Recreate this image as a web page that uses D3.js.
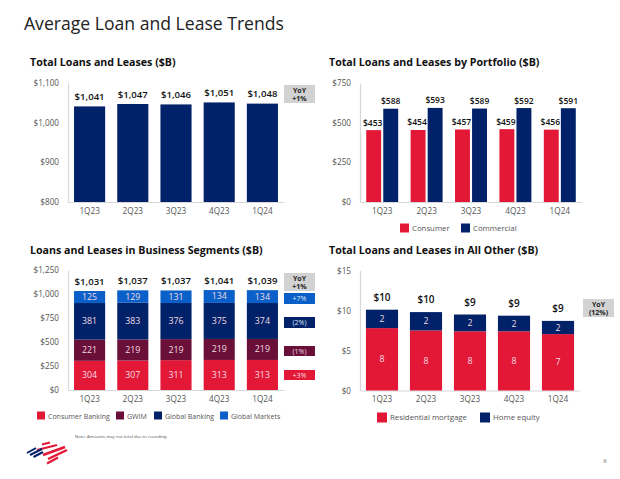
<!DOCTYPE html>
<html><head><meta charset="utf-8">
<script src="https://cdn.jsdelivr.net/npm/d3@7"></script>
<style>
html,body{margin:0;padding:0;background:#fff;}
text{font-family:"Open Sans","Noto Sans",sans-serif;}
</style></head><body>
<svg id="c" width="620" height="479"></svg>
<script>
const quarters=["1Q23","2Q23","3Q23","4Q23","1Q24"];
const totalLoans=[1041,1047,1046,1051,1048];
const consumer=[453,454,457,459,456];
const commercial=[588,593,589,592,591];
const segTotals=[1031,1037,1037,1041,1039];
const consumerBanking=[304,307,311,313,313];
const gwim=[221,219,219,219,219];
const globalBanking=[381,383,376,375,374];
const globalMarkets=[125,129,131,134,134];
const otherTotalLabels=[10,10,9,9,9];
const residential=[7.8,7.5,7.4,7.4,7.05];
const homeEquity=[2.3,2.3,2.1,1.95,1.65];
const residentialLabels=[8,8,8,8,7];
const homeEquityLabels=[2,2,2,2,2];
const ticks1=[800,900,1000,1100];
const ticks2=[0,250,500,750];
const ticks3=[0,250,500,750,1000,1250];
const ticks4=[0,5,10,15];

const NAVY="#012169",RED="#e31837",MAROON="#6a0f38",BLUE="#0a5fc8",GREY="#d2d2d2",TXT="#111",AX="#555";
const svg=d3.select("#c");
const fmt=d=>"$"+d3.format(",")(d);

svg.append("text").attr("x",24).attr("y",30).attr("font-size",17.6).attr("fill","#222").text("Average Loan and Lease Trends");

function frame(o){
  const g=svg.append("g");
  g.append("text").attr("x",o.tx).attr("y",o.ty).attr("font-size",10.65).attr("font-weight",700).attr("fill",TXT).text(o.title);
  const x=d3.scaleBand().domain(quarters).range([o.x0,o.x1]).paddingInner(o.pad).paddingOuter(o.pad/2);
  const y=d3.scaleLinear().domain(o.domain).range([o.y0,o.y1]);
  const ay=g.append("g").attr("transform",`translate(${o.x0},0)`).call(d3.axisLeft(y).tickValues(o.ticks).tickFormat(fmt).tickSize(0).tickPadding(9));
  ay.select(".domain").attr("stroke","#d8d8d8").attr("stroke-width",1.2);
  ay.selectAll("text").attr("font-size",8.2).attr("fill",AX).style("font-family",'"Open Sans",sans-serif');
  const ax=g.append("g").attr("transform",`translate(0,${o.y0})`).call(d3.axisBottom(x).tickSize(0).tickPadding(6));
  ax.select(".domain").attr("stroke","#d8d8d8").attr("stroke-width",1);
  ax.selectAll("text").attr("font-size",8.2).attr("fill",AX).style("font-family",'"Open Sans",sans-serif');
  return {g,x,y};
}
function stacked(p,seriesList){
  const rows=quarters.map((q,i)=>{const r={q};seriesList.forEach(s=>r[s.key]=s.values[i]);return r;});
  const st=d3.stack().keys(seriesList.map(s=>s.key))(rows);
  st.forEach((layer,li)=>{
    const s=seriesList[li];
    p.g.append("g").selectAll("rect").data(layer).join("rect")
      .attr("x",d=>p.x(d.data.q)).attr("width",p.x.bandwidth())
      .attr("y",d=>p.y(d[1])).attr("height",d=>p.y(d[0])-p.y(d[1])).attr("fill",s.color);
    p.g.append("g").selectAll("text").data(layer).join("text")
      .attr("x",d=>p.x(d.data.q)+p.x.bandwidth()/2)
      .attr("y",d=>(p.y(d[0])+p.y(d[1]))/2+3)
      .attr("text-anchor","middle").attr("font-size",8.8).attr("fill","#f0dce2")
      .text((d,i)=>s.labels[i]);
  });
  return st[st.length-1];
}
function legend(items){
  items.forEach(it=>{
    svg.append("rect").attr("x",it.x).attr("y",it.y-4.5).attr("width",it.size||8).attr("height",it.size||8).attr("fill",it.color);
    svg.append("text").attr("x",it.x+(it.size||8)+(it.gap||3)).attr("y",it.y+2.8).attr("font-size",it.fs||7.8).attr("fill",AX).text(it.label);
  });
}
function badge(x,y,w,h,fill,lines,color){
  svg.append("rect").attr("x",x).attr("y",y).attr("width",w).attr("height",h).attr("fill",fill);
  lines.forEach((l,i)=>svg.append("text").attr("x",x+w/2)
    .attr("y",y+h/2+2.6-(lines.length-1)*4+i*8).attr("text-anchor","middle")
    .attr("font-size",7).attr("font-weight",lines.length>1?700:400).attr("fill",color).text(l));
}

// Panel 1
const p1=frame({title:"Total Loans and Leases ($B)",tx:30,ty:66,x0:68,x1:284,y0:202,y1:83,domain:[800,1100],ticks:ticks1,pad:.28});
p1.g.append("g").selectAll("rect").data(totalLoans).join("rect")
  .attr("x",(d,i)=>p1.x(quarters[i])).attr("width",p1.x.bandwidth())
  .attr("y",d=>p1.y(d)).attr("height",d=>202-p1.y(d)).attr("fill",NAVY);
p1.g.append("g").selectAll("text").data(totalLoans).join("text")
  .attr("x",(d,i)=>p1.x(quarters[i])+p1.x.bandwidth()/2).attr("y",d=>p1.y(d)-6.5)
  .attr("text-anchor","middle").attr("font-size",9.6).attr("font-weight",600).attr("fill",TXT).text(fmt);
badge(284,85,31,18,GREY,["YoY","+1%"],"#222");

// Panel 2
const p2=frame({title:"Total Loans and Leases by Portfolio ($B)",tx:329,ty:66,x0:360,x1:582,y0:202,y1:83,domain:[0,750],ticks:ticks2,pad:.28});
const inner=d3.scaleBand().domain(["consumer","commercial"]).range([0,p2.x.bandwidth()]).paddingInner(.125);
[["consumer",consumer,RED],["commercial",commercial,NAVY]].forEach(([k,vals,c])=>{
  p2.g.append("g").selectAll("rect").data(vals).join("rect")
    .attr("x",(d,i)=>p2.x(quarters[i])+inner(k)).attr("width",inner.bandwidth())
    .attr("y",d=>p2.y(d)).attr("height",d=>202-p2.y(d)).attr("fill",c);
  p2.g.append("g").selectAll("text").data(vals).join("text")
    .attr("x",(d,i)=>p2.x(quarters[i])+inner(k)+inner.bandwidth()/2+(k=="consumer"?-1:0)).attr("y",d=>p2.y(d)-4.5)
    .attr("text-anchor","middle").attr("font-size",8.5).attr("font-weight",600).attr("fill",TXT).text(fmt);
});
legend([{x:400,y:228,color:RED,label:"Consumer",size:9},{x:461,y:228,color:NAVY,label:"Commercial",size:9}]);

// Panel 3
const p3=frame({title:"Loans and Leases in Business Segments ($B)",tx:30,ty:254,x0:68,x1:284,y0:390,y1:270,domain:[0,1250],ticks:ticks3,pad:.28});
const top3=stacked(p3,[
 {key:"cb",values:consumerBanking,labels:consumerBanking,color:RED},
 {key:"gw",values:gwim,labels:gwim,color:MAROON},
 {key:"gb",values:globalBanking,labels:globalBanking,color:NAVY},
 {key:"gm",values:globalMarkets,labels:globalMarkets,color:BLUE}]);
p3.g.append("g").selectAll("text").data(top3).join("text")
  .attr("x",d=>p3.x(d.data.q)+p3.x.bandwidth()/2).attr("y",d=>p3.y(d[1])-6.5)
  .attr("text-anchor","middle").attr("font-size",9.6).attr("font-weight",600).attr("fill",TXT).text((d,i)=>fmt(segTotals[i]));
badge(284,273,31,18,GREY,["YoY","+1%"],"#222");
badge(284,293,31,11,BLUE,["+7%"],"#dfe8f7");
badge(284,317,31,11,NAVY,["(2%)"],"#dfe8f7");
badge(284,346,31,10,MAROON,["(1%)"],"#f0d9e2");
badge(284,370,31,10,RED,["+3%"],"#fbdde3");
legend([{x:37,y:416,color:RED,label:"Consumer Banking",fs:7},{x:116,y:416,color:MAROON,label:"GWIM",fs:7},{x:154,y:416,color:NAVY,label:"Global Banking",fs:7},{x:220,y:416,color:BLUE,label:"Global Markets",fs:7}]);

// Panel 4
const p4=frame({title:"Total Loans and Leases in All Other ($B)",tx:329,ty:254,x0:360,x1:580,y0:390.5,y1:270.5,domain:[0,15],ticks:ticks4,pad:.27});
const top4=stacked(p4,[
 {key:"rm",values:residential,labels:residentialLabels,color:RED},
 {key:"he",values:homeEquity,labels:homeEquityLabels,color:NAVY}]);
p4.g.append("g").selectAll("text").data(top4).join("text")
  .attr("x",d=>p4.x(d.data.q)+p4.x.bandwidth()/2).attr("y",d=>p4.y(d[1])-9)
  .attr("text-anchor","middle").attr("font-size",10).attr("font-weight",600).attr("fill",TXT).text((d,i)=>"$"+otherTotalLabels[i]);
badge(583,299,31,18,GREY,["YoY","(12%)"],"#222");
legend([{x:377,y:417,color:RED,label:"Residential mortgage",size:10},{x:480,y:417,color:NAVY,label:"Home equity",size:10}]);

// Footer
svg.append("text").attr("x",75).attr("y",438).attr("font-size",4.3).attr("fill","#555").text("Note: Amounts may not total due to rounding.");
svg.append("text").attr("x",605).attr("y",463).attr("font-size",5.5).attr("fill","#555").attr("text-anchor","middle").text("6");

// Logo
const logo=svg.append("g").attr("fill","none");
[["M42 444.5 L50 442.5",RED,2],["M37 450 L57 445",RED,2.2],["M43 455 L65 447",RED,2.4],["M48 459 L67 450",RED,2.4],["M47 463.5 L58 457.5",RED,2.2],
 ["M27 453 L36 448",NAVY,2],["M30 455 L42 449",NAVY,2],["M33.5 457 L43 452",NAVY,2]]
 .forEach(([d,c,w])=>logo.append("path").attr("d",d).attr("stroke",c).attr("stroke-width",w));
</script>
</body></html>
